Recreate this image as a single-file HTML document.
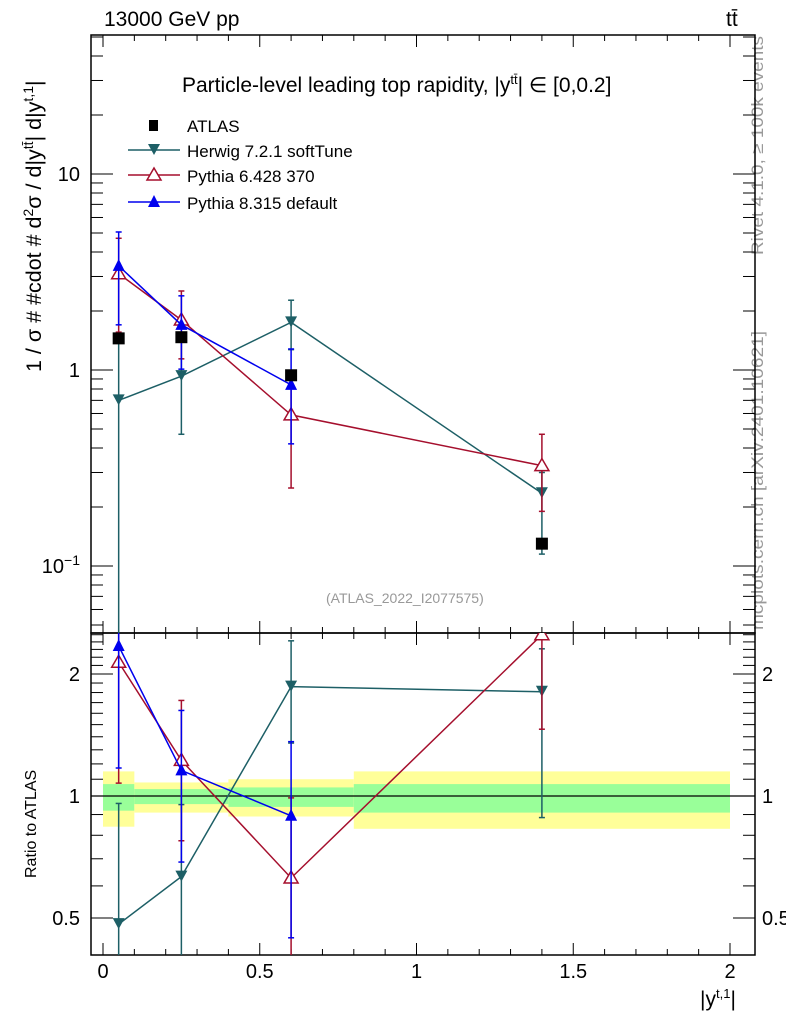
<!DOCTYPE html>
<html><head><meta charset="utf-8"><style>
html,body{margin:0;background:#fff;width:786px;height:1024px;overflow:hidden;}
svg{display:block;position:absolute;left:0;top:0;font-family:"Liberation Sans",sans-serif;}
</style></head><body>
<svg id="c" width="786" height="1024" viewBox="0 0 786 1024" xmlns="http://www.w3.org/2000/svg">
<text transform="translate(763,255) rotate(-90)" font-size="17" fill="#999" textLength="219" lengthAdjust="spacingAndGlyphs">Rivet 4.1.0, ≥ 100k events</text>
<text transform="translate(763,630) rotate(-90)" font-size="17" fill="#999" textLength="299" lengthAdjust="spacingAndGlyphs">mcplots.cern.ch [arXiv:2401.10621]</text>
</svg>
<script>
const xs = [0.05, 0.25, 0.6, 1.4];
const binEdges = [0, 0.1, 0.4, 0.8, 2.0];
const atlas = [1.45, 1.47, 0.94, 0.13];
const bandYellowHi = [1.15, 1.08, 1.10, 1.15];
const bandYellowLo = [0.84, 0.91, 0.89, 0.83];
const bandGreenHi = [1.07, 1.04, 1.05, 1.07];
const bandGreenLo = [0.92, 0.955, 0.94, 0.91];
const herwig = [0.70, 0.93, 1.75, 0.235];
const herwigHi = [1.39, 1.40, 2.27, 0.30];
const herwigLo = [0.01, 0.47, 1.27, 0.115];
const py6 = [3.1, 1.8, 0.59, 0.325];
const py6Hi = [4.7, 2.53, 0.93, 0.47];
const py6Lo = [1.56, 1.14, 0.25, 0.19];
const py8 = [3.4, 1.7, 0.84];
const py8Hi = [5.06, 2.39, 1.28];
const py8Lo = [1.70, 1.01, 0.42];
const xTicks = [0, 0.5, 1, 1.5, 2];
const xTickLabels = ["0", "0.5", "1", "1.5", "2"];

const NS = "http://www.w3.org/2000/svg";
const svg = document.getElementById('c');
const L = 91, R = 755, T = 35, MB = 633, RB = 955;
function X(v){ return 103 + (v) * 313.5; }
function Y(v){ return 174 - (Math.log10(v) - 1) * 196; }
function YR(v){ return 796 - Math.log2(v) * 122; }
function el(tag, attrs, parent){ const e = document.createElementNS(NS, tag); for (const k in attrs) e.setAttribute(k, attrs[k]); (parent||svg).appendChild(e); return e; }
function clip(id,y1,y2){ const d=el('clipPath',{id:id}); el('rect',{x:L,y:y1,width:R-L,height:y2-y1},d); }
clip('cm',T,MB); clip('cr',MB,RB);

const gb = el('g',{'clip-path':'url(#cr)'});


for(let i=0;i<atlas.length;i++){
  const x1=X(binEdges[i]), x2=X(binEdges[i+1]);
  const y = el('rect',{x:x1,y:YR(bandYellowHi[i]),width:x2-x1,height:YR(bandYellowLo[i])-YR(bandYellowHi[i]),fill:'#ffff99'},gb);
  
  
  const g = el('rect',{x:x1,y:YR(bandGreenHi[i]),width:x2-x1,height:YR(bandGreenLo[i])-YR(bandGreenHi[i]),fill:'#99ff99'},gb);
  
  
}
el('line',{x1:L,x2:R,y1:YR(1),y2:YR(1),stroke:'#000','stroke-width':1.3});

el('rect',{x:L,y:T,width:R-L,height:MB-T,fill:'none',stroke:'#000','stroke-width':1.5});
el('rect',{x:L,y:MB,width:R-L,height:RB-MB,fill:'none',stroke:'#000','stroke-width':1.5});

for(let i=0;i<=20;i++){
  const v=i/10, x=X(v), maj=(i%5===0), len=maj?12:6;
  el('line',{x1:x,x2:x,y1:MB,y2:MB-len,stroke:'#000'});
  el('line',{x1:x,x2:x,y1:T,y2:T+len,stroke:'#000'});
  el('line',{x1:x,x2:x,y1:RB,y2:RB-len,stroke:'#000'});
  el('line',{x1:x,x2:x,y1:MB,y2:MB+len,stroke:'#000'});
}
xTicks.forEach((v,i)=>{
  const t=el('text',{x:X(v),y:978,'font-size':20,'text-anchor':'middle'});
  t.textContent=xTickLabels[i];
  
  
});
for(let e=-2;e<=1;e++){
  for(let m=1;m<10;m++){
    const v=m*Math.pow(10,e), y=Y(v);
    if(y<T||y>MB) continue;
    const len=m===1?22:12;
    el('line',{x1:L,x2:L+len,y1:y,y2:y,stroke:'#000'});
    el('line',{x1:R,x2:R-len,y1:y,y2:y,stroke:'#000'});
  }
}
function lbl(x,y,txt,name,sz,anchor){ const t=el('text',{x:x,y:y,'font-size':sz||20,'text-anchor':anchor||'end'}); t.innerHTML=txt;   return t; }
lbl(80,181,'10','y-tick-10');
lbl(80,377,'1','y-tick-1');
lbl(80,573,'10<tspan dy="-8" font-size="14">−1</tspan>','y-tick-0.1');
for(let i=4;i<=25;i++){
  const v=i/10, y=YR(v); if(y<MB||y>RB) continue;
  const maj=(v===0.5||v===1||v===2), len=maj?22:12;
  el('line',{x1:L,x2:L+len,y1:y,y2:y,stroke:'#000'});
  el('line',{x1:R,x2:R-len,y1:y,y2:y,stroke:'#000'});
}
[[0.5,'0.5'],[1,'1'],[2,'2']].forEach(p=>{
  lbl(80,YR(p[0])+7,p[1],'ratio-tick-left');
  lbl(762,YR(p[0])+7,p[1],'ratio-tick-right',20,'start');
});

function series(name,color,vals,hi,lo,marker,ratio){
  const g=el('g',{'clip-path':ratio?'url(#cr)':'url(#cm)'});
  
  
  const F=ratio?(v,i)=>YR(v/atlas[i]):(v,i)=>Y(v);
  if(vals.length>1){
    const pts=vals.map((v,i)=>X(xs[i])+','+F(v,i)).join(' ');
    el('polyline',{points:pts,fill:'none',stroke:color,'stroke-width':1.5},g);
  }
  vals.forEach((v,i)=>{
    const x=X(xs[i]), yh=F(hi[i],i), yl=F(lo[i],i), y=F(v,i);
    el('line',{x1:x,x2:x,y1:yh,y2:yl,stroke:color,'stroke-width':1.5},g);
    el('line',{x1:x-3,x2:x+3,y1:yh,y2:yh,stroke:color,'stroke-width':1.5},g);
    el('line',{x1:x-3,x2:x+3,y1:yl,y2:yl,stroke:color,'stroke-width':1.5},g);
    drawMarker(g,marker,x,y,color,name+'-point');
  });
}
function drawMarker(g,m,x,y,color,name){
  let e;
  if(m==='down') e=el('polygon',{points:`${x-6},${y-6} ${x+6},${y-6} ${x},${y+5}`,fill:color},g);
  else if(m==='up') e=el('polygon',{points:`${x-6},${y+5} ${x+6},${y+5} ${x},${y-7}`,fill:color},g);
  else if(m==='upo') e=el('polygon',{points:`${x-7},${y+5} ${x+7},${y+5} ${x},${y-7}`,fill:'#fff',stroke:color,'stroke-width':1.5},g);
  else e=el('rect',{x:x-6,y:y-6,width:12,height:12,fill:'#000'},g);
  
  
}
series('herwig','#1d5f66',herwig,herwigHi,herwigLo,'down',false);
series('pythia6','#a50f2d',py6,py6Hi,py6Lo,'upo',false);
series('pythia8','#0000ee',py8,py8Hi,py8Lo,'up',false);
const ga=el('g',{'clip-path':'url(#cm)'});


atlas.forEach((v,i)=>drawMarker(ga,'sq',X(xs[i]),Y(v),'#000','atlas-point'));
series('herwig','#1d5f66',herwig,herwigHi,herwigLo,'down',true);
series('pythia6','#a50f2d',py6,py6Hi,py6Lo,'upo',true);
series('pythia8','#0000ee',py8,py8Hi,py8Lo,'up',true);

const leg=[['ATLAS','#000','sq',125],['Herwig 7.2.1 softTune','#1d5f66','down',150],['Pythia 6.428 370','#a50f2d','upo',175],['Pythia 8.315 default','#0000ee','up',202]];
leg.forEach(e=>{
  const g=el('g',{});
  
  
  if(e[2]!=='sq') el('line',{x1:128,x2:180,y1:e[3],y2:e[3],stroke:e[1],'stroke-width':1.5},g);
  if(e[2]==='sq') el('rect',{x:149,y:e[3]-5,width:9,height:11,fill:'#000'},g);
  else drawMarker(g,e[2],154,e[3],e[1],'legend-marker');
  const t=el('text',{x:187,y:e[3]+7,'font-size':17},g); t.textContent=e[0];
});
</script>
<div style="position:absolute;left:0;top:0;width:786px;height:1024px;overflow:hidden;pointer-events:none;font-family:'Liberation Sans',sans-serif;">
<div style="position:absolute;left:104px;top:8px;font-size:21px;">13000 GeV pp</div>
<div style="position:absolute;left:726px;top:8px;font-size:21px;">tt̄</div>
<div style="position:absolute;left:182px;top:72px;font-size:21px;">Particle-level leading top rapidity, |y<sup style="font-size:13px">tt̄</sup>| ∈ [0,0.2]</div>
<div style="position:absolute;left:326px;top:590px;font-size:14px;color:#999;">(ATLAS_2022_I2077575)</div>
<div style="position:absolute;transform:rotate(-90deg);transform-origin:0 0;left:20px;top:372px;white-space:nowrap;font-size:21.5px;">1 / σ # #cdot # d<sup style="font-size:14px">2</sup>σ / d|y<sup style="font-size:14px">tt̄</sup>| d|y<sup style="font-size:14px">t,1</sup>|</div>
<div style="position:absolute;transform:rotate(-90deg);transform-origin:0 0;left:23px;top:878px;white-space:nowrap;font-size:16px;">Ratio to ATLAS</div>
<div style="position:absolute;left:700px;top:986px;font-size:21px;">|y<sup style="font-size:13px">t,1</sup>|</div>
</div>
</body></html>
